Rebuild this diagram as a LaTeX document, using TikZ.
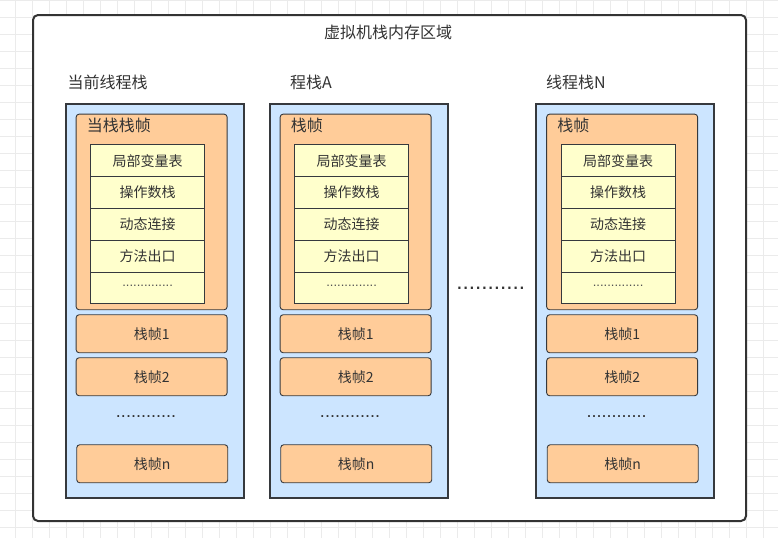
\documentclass[tikz,border=0pt]{standalone}
\usepackage{fontspec}
\setmainfont{Noto Sans CJK SC}
\newfontfamily\dotfont{Liberation Sans}
\definecolor{gridgray}{HTML}{EBEBEB}
\definecolor{dark}{HTML}{36393D}
\definecolor{txt}{HTML}{333333}
\definecolor{stackblue}{HTML}{CCE5FF}
\definecolor{frameorange}{HTML}{FFCC99}
\definecolor{cellyellow}{HTML}{FFFFCC}
\tikzset{
  gridline/.style={draw=gridgray, line width=0.7pt},
  outerbox/.style={draw=txt, line width=2pt, rounded corners=5pt, fill=white, anchor=north west, inner sep=0pt},
  stackbox/.style={draw=dark, line width=2pt, fill=stackblue, anchor=north west, inner sep=0pt, minimum width=178pt, minimum height=394pt},
  framebox/.style={draw=dark, line width=0.9pt, fill=frameorange, rounded corners=3pt, anchor=north west, inner sep=0pt, minimum width=151pt, text=txt, font=\fontsize{14}{14}\selectfont},
  cellbox/.style={draw=dark, line width=0.9pt, fill=cellyellow, anchor=north west, minimum width=113.7pt, minimum height=31.8pt, inner sep=0pt, text=txt, font=\fontsize{14}{14}\selectfont},
  headlabel/.style={text=txt, anchor=west, inner sep=0pt, font=\fontsize{16}{16}\selectfont},
  dotlabel/.style={text=txt, inner sep=0pt},
}
\begin{document}
\begin{tikzpicture}[x=1pt,y=-1pt]
\useasboundingbox (0,0) rectangle (778,538);
% background grid
\foreach \k in {0,...,45} {
  \draw[gridline] (15+\k*17,0) -- (15+\k*17,538);
}
\foreach \k in {0,...,31} {
  \draw[gridline] (0,0.3+\k*17) -- (778,0.3+\k*17);
}
% main region
\node[outerbox, minimum width=713pt, minimum height=506pt] (main) at (32,14) {};
\node[text=txt, inner sep=0pt, font=\fontsize{16}{16}\selectfont] (title) at (388,32) {虚拟机栈内存区域};
% columns
\foreach \c/\dx/\lx/\lab/\flab in {1/0/67.5/当前线程栈/当栈栈帧, 2/204/290/程栈A/栈帧, 3/470.5/546/线程栈N/栈帧} {
  \node[headlabel] (lab\c) at (\lx,82.3) {\lab};
  \node[stackbox] (stack\c) at (64.5+\dx,103) {};
  \node[framebox, minimum height=195.6pt] (cur\c) at (75.7+\dx,113.7) {};
  \node[headlabel] (curlab\c) at (86.7+\dx,125) {\flab};
  \node[cellbox] (r\c a) at (90.3+\dx,144.3) {局部变量表};
  \node[cellbox] (r\c b) at (90.3+\dx,176.1) {操作数栈};
  \node[cellbox] (r\c c) at (90.3+\dx,207.9) {动态连接};
  \node[cellbox] (r\c d) at (90.3+\dx,239.7) {方法出口};
  \node[cellbox] (r\c e) at (90.3+\dx,271.5) {};
  \node[dotlabel, font=\dotfont\fontsize{13}{13}\selectfont, text=txt!85] (r\c dots) at ([yshift=2pt]r\c e.center) {..............};
  \node[framebox, minimum height=38pt] (f\c a) at (75.7+\dx,314.3) {栈帧1};
  \node[framebox, minimum height=38pt] (f\c b) at (75.7+\dx,357.3) {栈帧2};
  \node[dotlabel, font=\dotfont\fontsize{18}{18}\selectfont] (gap\c) at (146+\dx,417) {............};
  \node[framebox, minimum height=38pt] (f\c n) at (76.3+\dx,444.3) {栈帧n};
}
\node[dotlabel, font=\dotfont\fontsize{22.5}{22.5}\selectfont] (middots) at (490.7,288.5) {...........};
\end{tikzpicture}
\end{document}
